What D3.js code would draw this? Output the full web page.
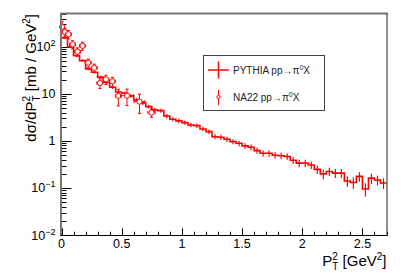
<!DOCTYPE html>
<html><head><meta charset="utf-8">
<script src="https://cdn.jsdelivr.net/npm/d3@7"></script>
<style>body{margin:0;background:#fff}svg{display:block}text{font-family:"Liberation Sans",Arial,Helvetica,sans-serif}</style>
</head><body><svg id="c" width="407" height="277"></svg>
<script>
// ---------- data ----------
const pythiaBinLow = [0.00,0.05,0.10,0.15,0.20,0.25,0.30,0.35,0.40,0.45,0.50,0.55,0.60,0.65,0.70,0.75,0.80,0.85,0.90,0.95,
  1.00,1.05,1.10,1.15,1.20,1.25,1.30,1.35,1.40,1.45,1.50,1.55,1.60,1.65,1.70,1.75,1.80,1.85,1.90,1.95,
  2.00,2.05,2.10,2.15,2.20,2.25,2.30,2.35,2.40,2.45,2.50,2.55,2.60,2.65];
const binWidth = 0.05;
const pythiaY = [155,100,65.3,51.1,34.0,28.9,22.7,17.7,13.9,11.0,10.35,9.06,7.45,6.44,5.37,4.57,4.41,3.40,2.90,2.67,
  2.45,2.19,2.12,1.80,1.58,1.23,1.20,1.09,0.966,0.893,0.784,0.735,0.622,0.547,0.547,0.497,0.486,0.468,0.388,0.337,
  0.340,0.308,0.248,0.199,0.224,0.207,0.207,0.141,0.131,0.176,0.0953,0.162,0.148,0.128];
const pythiaErr = [8,5,3.5,3,2,1.8,1.5,1.2,1.0,0.9,0.9,0.8,0.7,0.6,0.5,0.45,0.45,0.35,0.3,0.28,
  0.26,0.24,0.23,0.2,0.18,0.15,0.15,0.14,0.12,0.12,0.11,0.1,0.09,0.08,0.08,0.075,0.075,0.07,0.065,0.06,
  0.06,0.055,0.05,0.045,0.045,0.045,0.045,0.035,0.035,0.04,0.03,0.04,0.035,0.033];
const na22X = [0.005,0.028,0.057,0.092,0.133,0.175,0.222,0.272,0.319,0.369,0.423,0.472,0.544,0.648,0.748];
const na22Y = [267,205,185,113,79,105,46,36,17,20.4,18.5,9.06,9.16,6.86,4.0];
const na22Err = [75,40,38,22,16,20,9,7,4,4.5,4,3.5,3.5,3,0.8];
const na22XErr = [0.005,0.02,0.025,0.025,0.025,0.025,0.025,0.025,0.025,0.025,0.025,0.025,0.055,0.045,0.03];
const xMajorTicks = [0,0.5,1,1.5,2,2.5];
const xTickLabels = ["0","0.5","1","1.5","2","2.5"];
const yMajorTicks = [0.01,0.1,1,10,100];
const yTickBase = ["10","10","1","10","10"];
const yTickExp = ["\u22122","\u22121","","","2"];
const legendLabels = ["PYTHIA pp\u2192\u03c0", "NA22 pp\u2192\u03c0"];

// ---------- layout ----------
const L = 61.5, R = 386.5, T = 14, B = 235;
const red = "#ff0000";
const svg = d3.select("#c");
svg.append("rect").attr("width",407).attr("height",277).attr("fill","#fff");
const x = d3.scaleLinear().domain([0, 2.7]).range([L, R]);
const y = d3.scaleLog().domain([0.01, 500]).range([B, T]);

// ---------- axes ticks ----------
const g = svg.append("g");
const xMinor = d3.range(0, 27.01, 1).map(d => d / 10);
g.selectAll(".xt").data(xMinor).enter().append("line")
  .attr("x1", d => Math.round(x(d)) + 0.5).attr("x2", d => Math.round(x(d)) + 0.5)
  .attr("y1", B).attr("y2", d => B - (Math.abs(d * 2 - Math.round(d * 2)) < 1e-6 ? 6.6 : 3.3))
  .attr("stroke", "#000").attr("stroke-width", 1);
const yMinor = [];
[0.01, 0.1, 1, 10, 100].forEach(dec => { for (let k = 2; k <= 9; k++) { const v = dec * k; if (v <= 500) yMinor.push(v); } });
g.selectAll(".ytm").data(yMinor).enter().append("line")
  .attr("x1", L).attr("x2", L + 5).attr("y1", d => Math.round(y(d)) + 0.5).attr("y2", d => Math.round(y(d)) + 0.5)
  .attr("stroke", "#000");
g.selectAll(".ytM").data(yMajorTicks).enter().append("line")
  .attr("x1", L).attr("x2", L + 10).attr("y1", d => Math.round(y(d)) + 0.5).attr("y2", d => Math.round(y(d)) + 0.5)
  .attr("stroke", "#000");

g.selectAll(".xl").data(xMajorTicks).enter().append("text")
  .attr("x", d => x(d)).attr("y", 247.5).attr("text-anchor", "middle")
  .attr("font-size", 12.5).attr("fill", "#000").text((d, i) => xTickLabels[i]);
yMajorTicks.forEach((v, i) => {
  const t = g.append("text").attr("x", 55.5).attr("y", y(v) + 4.5).attr("text-anchor", "end")
    .attr("font-size", 12.5).attr("fill", "#000");
  t.append("tspan").text(yTickBase[i]);
  if (yTickExp[i]) t.append("tspan").attr("font-size", 9).attr("dy", -5).text(yTickExp[i]);
});

// ---------- PYTHIA histogram ----------
const stepPts = [];
pythiaBinLow.forEach((lo, i) => { stepPts.push([x(lo), y(pythiaY[i])]); stepPts.push([x(lo + binWidth), y(pythiaY[i])]); });
svg.append("path").attr("d", d3.line()(stepPts)).attr("fill", "none").attr("stroke", red).attr("stroke-width", 1.6);
svg.selectAll(".pe").data(pythiaBinLow).enter().append("line")
  .attr("x1", d => x(d + binWidth / 2)).attr("x2", d => x(d + binWidth / 2))
  .attr("y1", (d, i) => y(pythiaY[i] + pythiaErr[i])).attr("y2", (d, i) => y(Math.max(pythiaY[i] - pythiaErr[i], 0.011)))
  .attr("stroke", red).attr("stroke-width", 1.2);

// ---------- NA22 points ----------
const r = 2.6, cap = 1.6;
na22X.forEach((xv, i) => {
  const cx = x(xv), cy = y(na22Y[i]);
  const yt = y(na22Y[i] + na22Err[i]), yb = y(na22Y[i] - na22Err[i]);
  const xl = x(Math.max(0, xv - na22XErr[i])), xr = x(xv + na22XErr[i]);
  const gg = svg.append("g").attr("stroke", red).attr("stroke-width", 1).attr("fill", "none");
  gg.append("line").attr("x1", cx).attr("x2", cx).attr("y1", yt).attr("y2", cy - r);
  gg.append("line").attr("x1", cx).attr("x2", cx).attr("y1", cy + r).attr("y2", yb);
  gg.append("line").attr("x1", cx - cap).attr("x2", cx + cap).attr("y1", yt).attr("y2", yt);
  gg.append("line").attr("x1", cx - cap).attr("x2", cx + cap).attr("y1", yb).attr("y2", yb);
  if (cx - xl > r) {
    gg.append("line").attr("x1", xl).attr("x2", cx - r).attr("y1", cy).attr("y2", cy);
    gg.append("line").attr("x1", xl).attr("x2", xl).attr("y1", cy - cap).attr("y2", cy + cap);
  }
  if (xr - cx > r) {
    gg.append("line").attr("x1", cx + r).attr("x2", xr).attr("y1", cy).attr("y2", cy);
    gg.append("line").attr("x1", xr).attr("x2", xr).attr("y1", cy - cap).attr("y2", cy + cap);
  }
  gg.append("circle").attr("cx", cx).attr("cy", cy).attr("r", r).attr("fill", "#fff");
});

// ---------- frame ----------
svg.append("line").attr("x1", L - 0.5).attr("x2", L - 0.5).attr("y1", T - 1).attr("y2", B + 1).attr("stroke", "#777").attr("stroke-width", 2);
svg.append("line").attr("x1", L - 1).attr("x2", R + 1).attr("y1", T - 0.5).attr("y2", T - 0.5).attr("stroke", "#777").attr("stroke-width", 2);
svg.append("line").attr("x1", L - 1).attr("x2", R + 1).attr("y1", B + 0.5).attr("y2", B + 0.5).attr("stroke", "#000").attr("stroke-width", 1);
svg.append("line").attr("x1", R + 0.5).attr("x2", R + 0.5).attr("y1", T - 1).attr("y2", B + 1).attr("stroke", "#222").attr("stroke-width", 1);

// ---------- axis titles ----------
const xt = svg.append("text").attr("x", 386.5).attr("y", 266).attr("text-anchor", "end").attr("font-size", 15).attr("fill", "#000");
xt.append("tspan").text("P");
xt.append("tspan").attr("font-size", 10).attr("dy", -6.5).text("2");
xt.append("tspan").attr("font-size", 10).attr("dx", -5.6).attr("dy", 10.5).text("T");
xt.append("tspan").attr("dy", -4).text(" [GeV");
xt.append("tspan").attr("font-size", 10).attr("dy", -6.5).text("2");
xt.append("tspan").attr("dy", 6.5).text("]");

const yt = svg.append("text").attr("transform", "translate(36,14) rotate(-90)").attr("text-anchor", "end").attr("font-size", 15).attr("fill", "#000");
yt.append("tspan").text("d\u03c3/dP");
yt.append("tspan").attr("font-size", 10).attr("dy", -6.5).text("2");
yt.append("tspan").attr("font-size", 10).attr("dx", -5.6).attr("dy", 10.5).text("T");
yt.append("tspan").attr("dy", -4).text(" [mb / GeV");
yt.append("tspan").attr("font-size", 10).attr("dy", -6.5).text("2");
yt.append("tspan").attr("dy", 6.5).text("]");

// ---------- legend ----------
const lg = svg.append("g");
lg.append("rect").attr("x", 203.5).attr("y", 55.5).attr("width", 121).attr("height", 55).attr("fill", "#fff").attr("stroke", "#444").attr("stroke-width", 1);
lg.append("line").attr("x1", 208).attr("x2", 229).attr("y1", 70).attr("y2", 70).attr("stroke", red).attr("stroke-width", 1.5);
lg.append("line").attr("x1", 218.5).attr("x2", 218.5).attr("y1", 61.5).attr("y2", 78.5).attr("stroke", red).attr("stroke-width", 1.5);
lg.append("line").attr("x1", 218.5).attr("x2", 218.5).attr("y1", 90).attr("y2", 95.5).attr("stroke", red).attr("stroke-width", 1);
lg.append("line").attr("x1", 218.5).attr("x2", 218.5).attr("y1", 98.5).attr("y2", 105).attr("stroke", red).attr("stroke-width", 1);
lg.append("circle").attr("cx", 218.5).attr("cy", 97).attr("r", 1.6).attr("fill", "#fff").attr("stroke", red).attr("stroke-width", 1);
[73.5, 101].forEach((by, i) => {
  const t = lg.append("text").attr("x", 233).attr("y", by).attr("font-size", 10).attr("fill", "#222");
  t.append("tspan").text(legendLabels[i]);
  t.append("tspan").attr("font-size", 7).attr("dy", -4).text("0");
  t.append("tspan").attr("dy", 4).text("X");
});
</script></body></html>
